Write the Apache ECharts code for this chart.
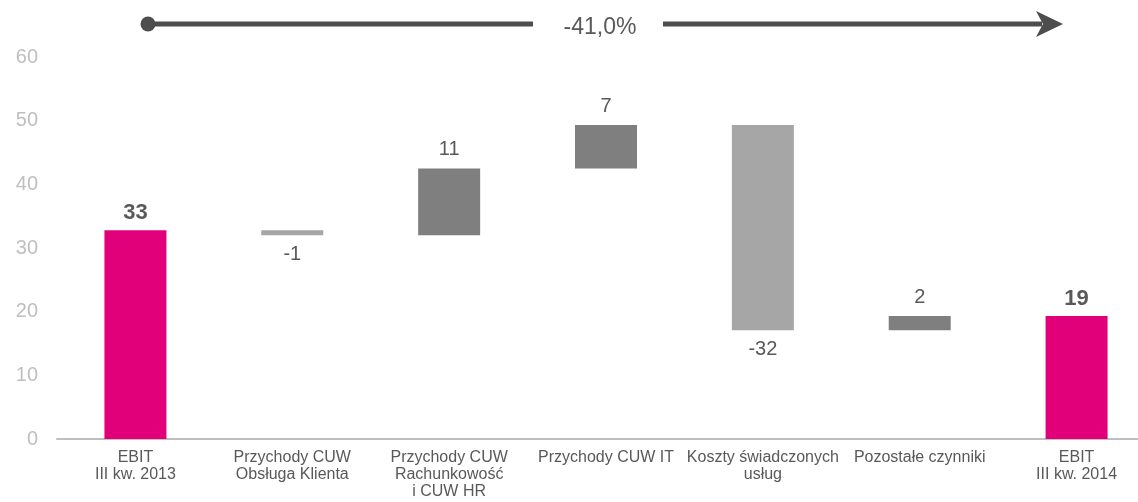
<!DOCTYPE html>
<html>
<head>
<meta charset="utf-8">
<script src="https://cdn.jsdelivr.net/npm/echarts@6/dist/echarts.min.js"></script>
<style>
  html, body { margin: 0; padding: 0; background: #ffffff; }
  #chart { width: 1138px; height: 502px; }
</style>
</head>
<body>
<div id="chart"></div>
<script>
// ---- Data ----
const categories = [
  'EBIT\nIII kw. 2013',
  'Przychody CUW\nObsługa Klienta',
  'Przychody CUW\nRachunkowość\ni CUW HR',
  'Przychody CUW IT',
  'Koszty świadczonych\nusług',
  'Pozostałe czynniki',
  'EBIT\nIII kw. 2014'
];
const startValue = 32.8;                       // EBIT III kw. 2013
const changes = [-0.8, 10.5, 6.8, -32.2, 2.2]; // bridge steps
const labelValues = ['33', '-1', '11', '7', '-32', '2', '19'];
const yTicks = [0, 10, 20, 30, 40, 50, 60];
const changeLabel = '-41,0%';

// ---- Build waterfall series ----
const baseData = [], incData = [], decData = [], totalData = [];
let cum = startValue;
totalData.push(startValue); baseData.push('-'); incData.push('-'); decData.push('-');
changes.forEach(d => {
  const next = cum + d;
  baseData.push(Math.min(cum, next));
  incData.push(d > 0 ? d : '-');
  decData.push(d < 0 ? -d : '-');
  totalData.push('-');
  cum = next;
});
const endValue = Math.round(cum * 10) / 10;
totalData.push(endValue); baseData.push('-'); incData.push('-'); decData.push('-');

const FONT = '"Liberation Sans", Arial, sans-serif';
const TXT = '#595959';
const labelFmt = p => labelValues[p.dataIndex];

const chart = echarts.init(document.getElementById('chart'), null, { renderer: 'canvas' });
chart.setOption({
  animation: false,
  backgroundColor: '#ffffff',
  textStyle: { fontFamily: FONT },
  grid: { left: 57, top: 57, right: -17, bottom: 63, containLabel: false, outerBoundsMode: 'none' },
  xAxis: {
    type: 'category',
    data: categories,
    axisTick: { show: false },
    axisLine: { lineStyle: { color: '#bfbfbf', width: 2 } },
    axisLabel: {
      interval: 0, margin: 10, color: TXT, fontSize: 16, lineHeight: 17,
      fontFamily: FONT
    }
  },
  yAxis: {
    type: 'value',
    min: yTicks[0], max: yTicks[yTicks.length - 1], interval: 10,
    splitLine: { show: false },
    axisLine: { show: false },
    axisTick: { show: false },
    axisLabel: { color: '#bfbfbf', fontSize: 20, margin: 19, fontFamily: FONT }
  },
  series: [
    {
      name: 'base', type: 'bar', stack: 'w', barWidth: 62,
      itemStyle: { color: 'transparent' },
      data: baseData, silent: true
    },
    {
      name: 'increase', type: 'bar', stack: 'w', barWidth: 62,
      itemStyle: { color: '#7f7f7f' },
      label: { show: true, position: 'top', distance: 9, color: TXT, fontSize: 20, formatter: labelFmt, fontFamily: FONT },
      data: incData
    },
    {
      name: 'decrease', type: 'bar', stack: 'w', barWidth: 62,
      itemStyle: { color: '#a6a6a6' },
      label: { show: true, position: 'bottom', distance: 9, color: TXT, fontSize: 20, formatter: labelFmt, fontFamily: FONT },
      data: decData
    },
    {
      name: 'total', type: 'bar', stack: 'w', barWidth: 62,
      itemStyle: { color: '#e2007a' },
      label: { show: true, position: 'top', distance: 6, color: TXT, fontSize: 22, fontWeight: 'bold', formatter: labelFmt, fontFamily: FONT },
      data: totalData
    }
  ],
  graphic: [
    { type: 'circle', shape: { cx: 148, cy: 24, r: 7.5 }, style: { fill: '#4d4d4d' } },
    { type: 'line', shape: { x1: 148, y1: 24, x2: 533, y2: 24 }, style: { stroke: '#4d4d4d', lineWidth: 5 } },
    { type: 'line', shape: { x1: 663, y1: 24, x2: 1042, y2: 24 }, style: { stroke: '#4d4d4d', lineWidth: 5 } },
    { type: 'polygon', shape: { points: [[1036, 11], [1063, 24], [1036, 37], [1043, 24]] }, style: { fill: '#4d4d4d' } },
    { type: 'text', x: 600, y: 28, style: { text: changeLabel, fill: TXT, fontSize: 23, fontFamily: FONT, align: 'center', verticalAlign: 'middle' } }
  ]
});
</script>
</body>
</html>
